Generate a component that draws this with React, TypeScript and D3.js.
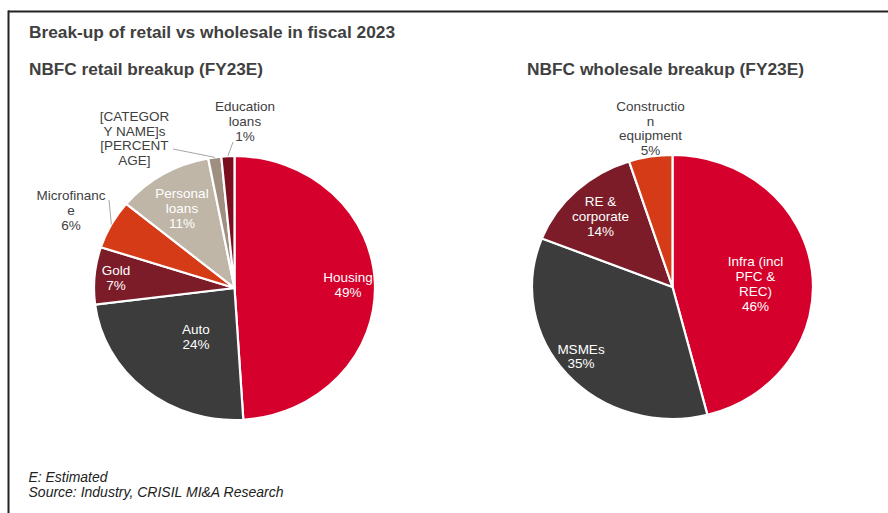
import React from "react";
import * as d3 from "d3";

const retailCategories = ["Housing", "Auto", "Gold", "Microfinance", "Personal loans", "[CATEGORY NAME]s", "Education loans"];
const retailValues = [49, 24, 7, 6, 11, 1.5, 1.5];
const retailLabels = [
  ["Housing", "49%"],
  ["Auto", "24%"],
  ["Gold", "7%"],
  ["Microfinanc", "e", "6%"],
  ["Personal", "loans", "11%"],
  ["[CATEGOR", "Y NAME]s", "[PERCENT", "AGE]"],
  ["Education", "loans", "1%"],
];

const wholesaleCategories = ["Infra (incl PFC & REC)", "MSMEs", "RE & corporate", "Construction equipment"];
const wholesaleValues = [46, 35, 14, 5];
const wholesaleLabels = [
  ["Infra (incl", "PFC &", "REC)", "46%"],
  ["MSMEs", "35%"],
  ["RE &", "corporate", "14%"],
  ["Constructio", "n", "equipment", "5%"],
];

const title = "Break-up of retail vs wholesale in fiscal 2023";
const retailTitle = "NBFC retail breakup (FY23E)";
const wholesaleTitle = "NBFC wholesale breakup (FY23E)";
const notes = ["E: Estimated", "Source: Industry, CRISIL MI&A Research"];

// styling / layout (not data)
const retailColors = ["#D5002B", "#3C3C3C", "#7B1C28", "#D63B17", "#BFB6A8", "#9E8F80", "#7A0E1E"];
const wholesaleColors = ["#D5002B", "#3C3C3C", "#7B1C28", "#D63B17"];
const retailLabelLayout = [
  { dx: 113.5, dy: -3.5, inside: true },
  { dx: -38.5, dy: 48.5, inside: true },
  { dx: -118.5, dy: -10.5, inside: true },
  { dx: -163.5, dy: -78, inside: false, leader: [-125.5, -88] },
  { dx: -52.5, dy: -80, inside: true },
  { dx: -100, dy: -150, inside: false, leader: [-61.5, -139] },
  { dx: 10.5, dy: -167, inside: false, leader: [-1.5, -146] },
];
const wholesaleLabelLayout = [
  { dx: 83, dy: -3.5, inside: true },
  { dx: -91.5, dy: 69, inside: true },
  { dx: -72, dy: -71, inside: true },
  { dx: -22, dy: -159, inside: false },
];

const W = 888;
const H = 513;
const RX = 140.5;
const RY = 132;
const FONT = "'Liberation Sans', Arial, Helvetica, sans-serif";
const LINE_H = 14.7;

function Pie({ cx, cy, values, colors, labels, layout }: any) {
  const pie = d3.pie<number>().sort(null).startAngle(0).endAngle(2 * Math.PI);
  const arcs = pie(values);
  const arc = d3.arc<d3.PieArcDatum<number>>().innerRadius(0).outerRadius(RX);
  const sy = RY / RX;
  return (
    <g>
      <g transform={`translate(${cx},${cy}) scale(1,${sy})`}>
        {arcs.map((a, i) => (
          <path key={i} d={arc(a) || ""} fill={colors[i]} stroke="#fff" strokeWidth={2.2} vectorEffect="non-scaling-stroke" />
        ))}
      </g>
      {arcs.map((a, i) => {
        const l = layout[i];
        if (!l.leader) return null;
        const mid = (a.startAngle + a.endAngle) / 2;
        const ex = cx + RX * Math.sin(mid);
        const ey = cy - RY * Math.cos(mid);
        return (
          <line key={"l" + i} x1={ex} y1={ey} x2={cx + l.leader[0]} y2={cy + l.leader[1]} stroke="#A6A6A6" strokeWidth={1} />
        );
      })}
      {arcs.map((a, i) => {
        const l = layout[i];
        const lines: string[] = labels[i];
        const x = cx + l.dx;
        const y0 = cy + l.dy - ((lines.length - 1) * LINE_H) / 2;
        return (
          <text key={"t" + i} x={x} y={y0} textAnchor="middle" dominantBaseline="central" fontFamily={FONT} fontSize={13.5} fill={l.inside ? "#FFFFFF" : "#404040"}>
            {lines.map((s, j) => (
              <tspan key={j} x={x} y={y0 + j * LINE_H}>{s}</tspan>
            ))}
          </text>
        );
      })}
    </g>
  );
}

export default function App() {
  const narrow = "'Liberation Sans Narrow', 'Arial Narrow', 'Liberation Sans', sans-serif";
  return (
    <svg width={W} height={H} viewBox={`0 0 ${W} ${H}`} style={{ position: "fixed", left: 0, top: 0, display: "block", background: "#fff" }}>
      <rect x={0} y={0} width={W} height={H} fill="#fff" />
      <line x1={8} y1={11.5} x2={W} y2={11.5} stroke="#222" strokeWidth={2} />
      <line x1={8.5} y1={10.5} x2={8.5} y2={H} stroke="#222" strokeWidth={2} />
      <text x={29} y={37.5} fontFamily={FONT} fontWeight="bold" fontSize={16} fill="#404040" textLength={366} lengthAdjust="spacingAndGlyphs">{title}</text>
      <text x={29} y={74.5} fontFamily={FONT} fontWeight="bold" fontSize={16} fill="#404040" textLength={234} lengthAdjust="spacingAndGlyphs">{retailTitle}</text>
      <text x={527} y={74.5} fontFamily={FONT} fontWeight="bold" fontSize={16} fill="#404040" textLength={277} lengthAdjust="spacingAndGlyphs">{wholesaleTitle}</text>
      <Pie cx={234.5} cy={288} values={retailValues} colors={retailColors} labels={retailLabels} layout={retailLabelLayout} />
      <Pie cx={672.5} cy={287} values={wholesaleValues} colors={wholesaleColors} labels={wholesaleLabels} layout={wholesaleLabelLayout} />
      <text x={28.5} y={482} fontFamily={narrow} fontStyle="italic" fontSize={14} fill="#222" textLength={79} lengthAdjust="spacingAndGlyphs">{notes[0]}</text>
      <text x={28.5} y={497} fontFamily={narrow} fontStyle="italic" fontSize={14} fill="#222" textLength={255} lengthAdjust="spacingAndGlyphs">{notes[1]}</text>
    </svg>
  );
}
